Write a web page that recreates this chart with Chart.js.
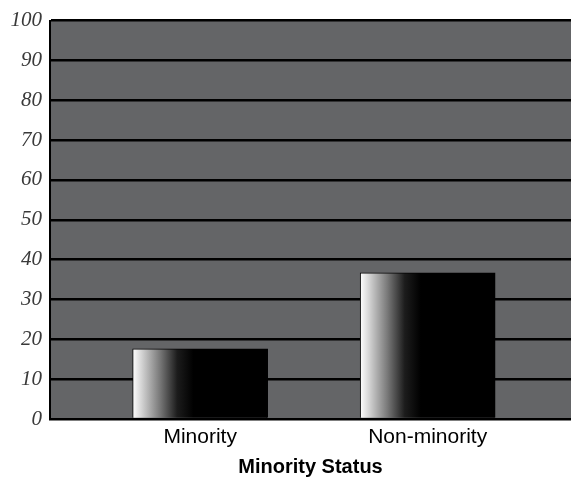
<!DOCTYPE html>
<html>
<head>
<meta charset="utf-8">
<script src="https://cdn.jsdelivr.net/npm/chart.js@4.4.0/dist/chart.umd.min.js"></script>
<style>
  html, body { margin: 0; padding: 0; background: #fff; overflow: hidden; }
  canvas { display: block; }
</style>
</head>
<body>
<canvas id="chart" width="571" height="480"></canvas>
<script>
const categories = ["Minority", "Non-minority"];
const positions = [1, 2];
const values = [17.6, 36.7];
const yTicks = [0, 10, 20, 30, 40, 50, 60, 70, 80, 90, 100];

// gray plot background
const plotBg = {
  id: 'plotBg',
  beforeDraw(chart) {
    const { ctx, chartArea } = chart;
    ctx.save();
    ctx.fillStyle = '#646567';
    ctx.fillRect(chartArea.left, chartArea.top, chartArea.right - chartArea.left, chartArea.bottom - chartArea.top);
    ctx.restore();
  }
};

// white-to-black horizontal shading on each bar
const barShade = {
  id: 'barShade',
  beforeDatasetsDraw(chart) {
    const ctx = chart.ctx;
    chart.getDatasetMeta(0).data.forEach(bar => {
      const left = bar.x - bar.width / 2;
      if (!isFinite(left)) return;
      const g = ctx.createLinearGradient(left, 0, left + bar.width, 0);
      g.addColorStop(0, '#ffffff');
      g.addColorStop(0.06, '#d8d8d8');
      g.addColorStop(0.2, '#7a7a7a');
      g.addColorStop(0.33, '#1c1c1c');
      g.addColorStop(0.45, '#000000');
      g.addColorStop(1, '#000000');
      bar.options.backgroundColor = g;
    });
  }
};

new Chart(document.getElementById('chart'), {
  type: 'bar',
  data: {
    datasets: [{
      data: positions.map((p, i) => ({ x: p, y: values[i] })),
      // scriptable so every bar keeps its own options object
      backgroundColor: () => '#000',
      borderColor: '#000',
      borderWidth: 1,
      barThickness: 135
    }]
  },
  options: {
    responsive: false,
    animation: false,
    layout: { padding: { top: 16, right: 0, left: 0, bottom: 0 } },
    plugins: { legend: { display: false }, tooltip: { enabled: false } },
    scales: {
      x: {
        type: 'linear',
        offset: false,
        min: 0.34,
        max: 2.63,
        grid: { display: false, drawTicks: false },
        border: { display: false },
        afterBuildTicks(axis) {
          axis.ticks = positions.map(v => ({ value: v }));
        },
        afterFit(axis) { axis.height = 61; },
        ticks: {
          color: '#000',
          padding: 6,
          maxRotation: 0,
          font: { family: 'Liberation Sans, Arial, sans-serif', size: 21 },
          callback: (v) => categories[positions.indexOf(v)]
        },
        title: {
          display: true,
          text: 'Minority Status',
          color: '#000',
          font: { family: 'Liberation Sans, Arial, sans-serif', size: 20, weight: 'bold' },
          padding: { top: 5, bottom: 1 }
        }
      },
      y: {
        min: 0,
        max: 100,
        afterBuildTicks(axis) {
          axis.ticks = yTicks.map(v => ({ value: v }));
        },
        afterFit(axis) { axis.width = 50; },
        grid: { color: '#000', lineWidth: 2.5, drawTicks: false },
        border: { display: true, color: '#000', width: 2 },
        ticks: {
          color: '#3a3a3a',
          padding: 8,
          font: { family: 'Liberation Serif, Times New Roman, serif', size: 21, style: 'italic' }
        }
      }
    }
  },
  plugins: [plotBg, barShade]
});
</script>
</body>
</html>
